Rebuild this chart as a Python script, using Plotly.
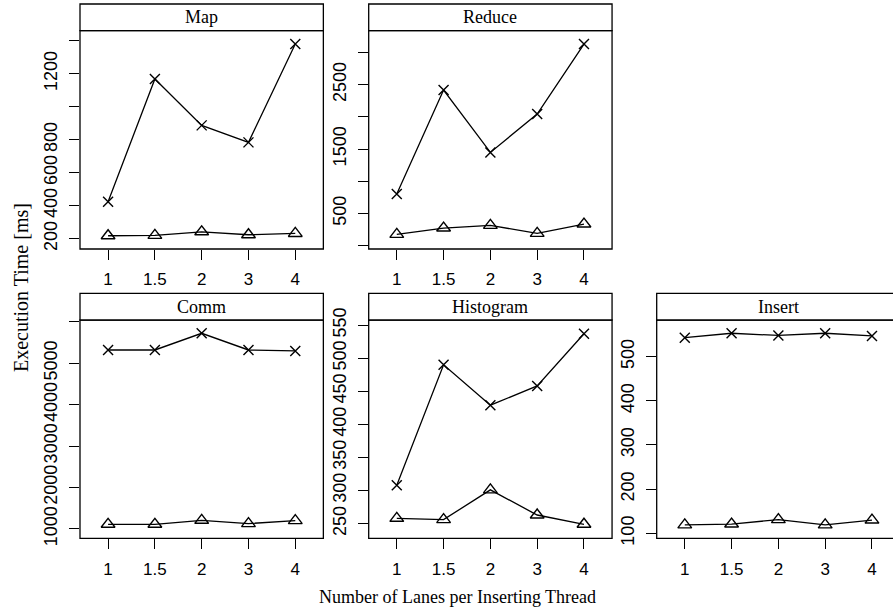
import plotly.graph_objects as go

W, H = 893, 616

categories = ["1", "1.5", "2", "3", "4"]
panels = ["Map", "Reduce", "Comm", "Histogram", "Insert"]

map_x = [424, 1168, 887, 784, 1380]
map_tri = [218, 220, 242, 224, 232]
reduce_x = [800, 2417, 1448, 2044, 3132]
reduce_tri = [174, 272, 313, 189, 334]
comm_x = [5317, 5317, 5719, 5317, 5293]
comm_tri = [1113, 1113, 1209, 1129, 1201]
hist_x = [308, 490, 429, 458, 537]
hist_tri = [258, 256, 301, 263, 249]
insert_x = [543, 553, 548, 553, 547]
insert_tri = [119, 121, 131, 119, 130]

map_ticks = [200, 400, 600, 800, 1000, 1200, 1400]
map_ticktext = ["200", "400", "600", "800", "", "1200", ""]
reduce_ticks = [0, 500, 1000, 1500, 2000, 2500, 3000]
reduce_ticktext = ["", "500", "", "1500", "", "2500", ""]
comm_ticks = [1000, 2000, 3000, 4000, 5000, 6000]
comm_ticktext = ["1000", "2000", "3000", "4000", "5000", ""]
hist_ticks = [250, 300, 350, 400, 450, 500, 550]
hist_ticktext = ["250", "300", "350", "400", "450", "500", "550"]
insert_ticks = [100, 200, 300, 400, 500]
insert_ticktext = ["100", "200", "300", "400", "500"]

series_x = [map_x, reduce_x, comm_x, hist_x, insert_x]
series_tri = [map_tri, reduce_tri, comm_tri, hist_tri, insert_tri]
ticks = [map_ticks, reduce_ticks, comm_ticks, hist_ticks, insert_ticks]
ticktexts = [map_ticktext, reduce_ticktext, comm_ticktext, hist_ticktext, insert_ticktext]
yranges = [[137.6, 1461], [-54, 3340], [775, 6040], [227.8, 557.7], [88.7, 583]]

# pixel boxes: (x0, x1, strip_top, plot_top, plot_bottom)
UNIT = 46.8
boxes = [
    (80, 80 + 5.2 * UNIT, 4, 30.7, 249),
    (368.7, 368.7 + 5.2 * UNIT, 4, 30.7, 249),
    (80, 80 + 5.2 * UNIT, 293.3, 320, 538.3),
    (368.7, 368.7 + 5.2 * UNIT, 293.3, 320, 538.3),
    (656.7, 656.7 + 5.2 * UNIT, 293.3, 320, 538.3),
]

def px(x):
    return x / W

def py(y):
    return 1 - y / H

fig = go.Figure()
shapes = []
annotations = []
layout = {}

for i, (name, b) in enumerate(zip(panels, boxes)):
    x0, x1, st, pt, pb = b
    n = "" if i == 0 else str(i + 1)
    xa, ya = "x" + n, "y" + n
    vis_x1 = min(x1, W)
    xr = [-0.6, -0.6 + (vis_x1 - x0) / UNIT]
    layout["xaxis" + n] = dict(
        domain=[px(x0), px(vis_x1)], anchor=ya, type="category",
        categoryorder="array", categoryarray=categories,
        range=xr, showgrid=False, zeroline=False, showline=False,
        ticks="outside", ticklen=10, tickwidth=1, tickcolor="black",
        ticklabelstandoff=5,
        tickfont=dict(family="Liberation Sans", size=17, color="black"),
    )
    layout["yaxis" + n] = dict(
        domain=[py(pb), py(pt)], anchor=xa, range=yranges[i],
        tickmode="array", tickvals=ticks[i], ticktext=ticktexts[i],
        tickangle=-90, showgrid=False, zeroline=False, showline=False,
        ticks="outside", ticklen=10, tickwidth=1, tickcolor="black",
        ticklabelstandoff=5,
        tickfont=dict(family="Liberation Sans", size=18, color="black"),
    )
    fig.add_trace(go.Scatter(
        x=categories, y=series_x[i], xaxis=xa, yaxis=ya, mode="lines+markers",
        line=dict(color="black", width=1.3),
        marker=dict(symbol="x-thin", size=10, color="black",
                    line=dict(color="black", width=1.4)),
        showlegend=False, cliponaxis=False,
    ))
    fig.add_trace(go.Scatter(
        x=categories, y=series_tri[i], xaxis=xa, yaxis=ya, mode="lines+markers",
        line=dict(color="black", width=1.3),
        marker=dict(symbol="triangle-up-open", size=12, color="black",
                    line=dict(color="black", width=1.4)),
        showlegend=False, cliponaxis=False,
    ))
    shapes.append(dict(type="rect", xref="paper", yref="paper",
                       x0=px(x0), x1=px(x1), y0=py(pb), y1=py(pt),
                       line=dict(color="black", width=1.3), fillcolor="rgba(0,0,0,0)",
                       layer="above"))
    shapes.append(dict(type="rect", xref="paper", yref="paper",
                       x0=px(x0), x1=px(x1), y0=py(pt), y1=py(st),
                       line=dict(color="black", width=1.3), fillcolor="white",
                       layer="above"))
    annotations.append(dict(text=name, xref="paper", yref="paper",
                            x=px((x0 + x1) / 2), y=py((st + pt) / 2),
                            xanchor="center", yanchor="middle", showarrow=False,
                            font=dict(family="Liberation Serif", size=18, color="black")))

annotations.append(dict(text="Number of Lanes per Inserting Thread", xref="paper", yref="paper",
                        x=px(458), y=py(597), xanchor="center", yanchor="middle",
                        showarrow=False,
                        font=dict(family="Liberation Serif", size=18, color="black")))
annotations.append(dict(text="Execution Time [ms]", xref="paper", yref="paper",
                        x=px(21), y=py(288), xanchor="center", yanchor="middle",
                        textangle=-90, showarrow=False,
                        font=dict(family="Liberation Serif", size=20, color="black")))

fig.update_layout(
    width=W, height=H, margin=dict(l=0, r=0, t=0, b=0, autoexpand=False),
    paper_bgcolor="white", plot_bgcolor="white",
    shapes=shapes, annotations=annotations, showlegend=False,
    **layout,
)

fig.write_html(
    "out.html",
    config={"displayModeBar": False},
    post_script="document.body.style.margin='0';document.body.style.overflow='hidden';",
)
